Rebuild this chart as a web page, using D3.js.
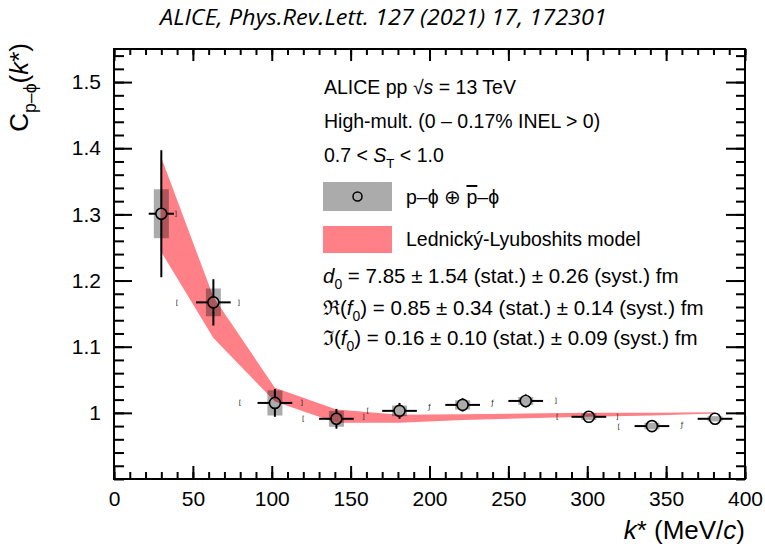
<!DOCTYPE html>
<html>
<head>
<meta charset="utf-8">
<script src="https://cdn.jsdelivr.net/npm/d3@7"></script>
<style>
  body { margin: 0; background: #fff; }
  svg { display: block; font-family: "Liberation Sans", Arial, sans-serif; }
</style>
</head>
<body>
<svg id="chart" width="765" height="548"></svg>
<script>
// p-phi correlation
const kStar = [30, 63, 102, 141, 181, 221, 261, 301, 341, 381];
const corr = [1.301, 1.167, 1.015, 0.991, 1.003, 1.012, 1.018, 0.994, 0.980, 0.991];
const statErr = [0.096, 0.035, 0.021, 0.015, 0.012, 0.010, 0.010, 0.005, 0.005, 0.004];
const systErr = [0.037, 0.021, 0.019, 0.012, 0.008, 0.007, 0.006, 0.005, 0.005, 0.004];
const kErr = [8, 11, 11, 11, 11, 11, 11, 11, 11, 11];

// Lednicky-Lyuboshits band
const modelK = [29.5, 63, 102, 141, 181, 221, 261, 301, 341, 381];
const modelLow = [1.245, 1.113, 1.017, 0.985, 0.985, 0.989, 0.992, 0.994, 0.996, 0.999];
const modelHigh = [1.389, 1.175, 1.038, 1.005, 0.997, 0.998, 0.999, 1.000, 1.000, 1.001];

// little bracket glyphs left over at the bin edges
const markK = [39, 40, 79, 80, 119, 120, 158, 161, 200, 240, 280, 281, 319, 320, 360, 400];
const markV = [1.301, 1.167, 1.167, 1.015, 1.015, 0.991, 0.994, 1.003, 1.009, 1.015, 1.018, 0.994, 0.994, 0.980, 0.983, 0.991];
const markChar = [']', '[', ']', '[', ']', '[', ']', '[', 'ƒ', 'ƒ', ']', '[', ']', '[', 'ƒ', ']'];

const xTicks = [0, 50, 100, 150, 200, 250, 300, 350, 400];
const yTicks = [1.0, 1.1, 1.2, 1.3, 1.4, 1.5];

const bandColor = '#ff8087';

const svg = d3.select('#chart');
const frame = { left: 114, top: 49, right: 745, bottom: 479 };

const x = d3.scaleLinear().domain([0, 400]).range([frame.left, frame.right]);
const y = d3.scaleLinear().domain([0.9, 1.55]).range([frame.bottom, frame.top]);

// title
svg
  .append('text')
  .attr('x', 383.5)
  .attr('y', 25)
  .attr('text-anchor', 'middle')
  .attr('textLength', 447)
  .attr('lengthAdjust', 'spacingAndGlyphs')
  .style('font-family', '"Open Sans", sans-serif')
  .style('font-style', 'italic')
  .style('font-size', '22px')
  .text('ALICE, Phys.Rev.Lett. 127 (2021) 17, 172301');

function rich(sel, px, py, parts, size) {
  const t = sel
    .append('text')
    .attr('x', px)
    .attr('y', py)
    .style('font-size', `${size}px`);
  let shift = 0;
  parts.forEach(p => {
    const want = p.sub ? size * 0.3 : 0;
    const ts = t.append('tspan').attr('dy', want - shift).text(p.t);
    shift = want;
    if (p.it) ts.style('font-style', 'italic');
    if (p.sub) ts.style('font-size', `${size * 0.68}px`);
    if (p.ov) ts.style('text-decoration', 'overline');
  });
  return t;
}

// model band
const band = d3
  .area()
  .x((d, i) => x(modelK[i]))
  .y0((d, i) => y(modelLow[i]))
  .y1((d, i) => y(modelHigh[i]));

svg
  .append('path')
  .attr('d', band(modelK))
  .attr('fill', bandColor);

// systematic boxes
svg
  .selectAll('.syst')
  .data(kStar)
  .enter()
  .append('rect')
  .attr('class', 'syst')
  .attr('x', d => x(d) - 7.5)
  .attr('width', 15)
  .attr('y', (d, i) => y(corr[i] + systErr[i]))
  .attr('height', (d, i) => y(corr[i] - systErr[i]) - y(corr[i] + systErr[i]))
  .attr('fill', '#000')
  .attr('fill-opacity', 0.33);

// stat error bars, stopped at the marker edge
const r = 5.5;
const bars = [];
kStar.forEach((k, i) => {
  const cx = x(k);
  const cy = y(corr[i]);
  const top = y(corr[i] + statErr[i]);
  const bot = y(corr[i] - statErr[i]);
  if (cy - r > top) bars.push([cx, top, cx, cy - r]);
  if (bot > cy + r) bars.push([cx, cy + r, cx, bot]);
  bars.push([x(k - kErr[i]), cy, cx - r, cy]);
  bars.push([cx + r, cy, x(k + kErr[i]), cy]);
});

svg
  .selectAll('.err')
  .data(bars)
  .enter()
  .append('line')
  .attr('class', 'err')
  .attr('x1', d => d[0])
  .attr('y1', d => d[1])
  .attr('x2', d => d[2])
  .attr('y2', d => d[3])
  .attr('stroke', '#000')
  .attr('stroke-width', 2);

svg
  .selectAll('.dot')
  .data(kStar)
  .enter()
  .append('circle')
  .attr('class', 'dot')
  .attr('cx', d => x(d))
  .attr('cy', (d, i) => y(corr[i]))
  .attr('r', r)
  .attr('fill', 'none')
  .attr('stroke', '#000')
  .attr('stroke-width', 1.6);

svg
  .selectAll('.mark')
  .data(markK)
  .enter()
  .append('text')
  .attr('class', 'mark')
  .attr('x', d => x(d))
  .attr('y', (d, i) => y(markV[i]) + 2.5)
  .attr('text-anchor', 'middle')
  .style('font-size', '7px')
  .style('font-family', '"DejaVu Sans", sans-serif')
  .attr('fill', '#222')
  .text((d, i) => markChar[i]);

// axes, ticks inside the frame
function styleAxis(g) {
  g.select('.domain').remove();
  g.selectAll('.tick line').attr('stroke', '#000').attr('stroke-width', 2);
  g.selectAll('.tick text').attr('fill', '#000').style('font-size', '21px');
}

const xMinor = d3.range(0, 401, 10);
const yMinor = d3.range(0.9, 1.551, 0.02);

svg
  .append('g')
  .attr('transform', `translate(0,${frame.bottom})`)
  .call(d3.axisBottom(x).tickValues(xMinor).tickSize(-7).tickFormat(''))
  .call(styleAxis);
svg
  .append('g')
  .attr('transform', `translate(0,${frame.bottom})`)
  .call(
    d3
      .axisBottom(x)
      .tickValues(xTicks)
      .tickSize(-13)
      .tickPadding(12)
      .tickFormat(d => d)
  )
  .call(styleAxis);

svg
  .append('g')
  .attr('transform', `translate(0,${frame.top})`)
  .call(d3.axisTop(x).tickValues(xMinor).tickSize(-6).tickFormat(''))
  .call(styleAxis);
svg
  .append('g')
  .attr('transform', `translate(0,${frame.top})`)
  .call(d3.axisTop(x).tickValues(xTicks).tickSize(-12).tickFormat(''))
  .call(styleAxis);

svg
  .append('g')
  .attr('transform', `translate(${frame.left},0)`)
  .call(d3.axisLeft(y).tickValues(yMinor).tickSize(-10).tickFormat(''))
  .call(styleAxis);
svg
  .append('g')
  .attr('transform', `translate(${frame.left},0)`)
  .call(
    d3
      .axisLeft(y)
      .tickValues(yTicks)
      .tickSize(-18)
      .tickPadding(13)
      .tickFormat(d => (d === 1 ? '1' : d3.format('.1f')(d)))
  )
  .call(styleAxis);

svg
  .append('g')
  .attr('transform', `translate(${frame.right},0)`)
  .call(d3.axisRight(y).tickValues(yMinor).tickSize(-9).tickFormat(''))
  .call(styleAxis);
svg
  .append('g')
  .attr('transform', `translate(${frame.right},0)`)
  .call(d3.axisRight(y).tickValues(yTicks).tickSize(-19).tickFormat(''))
  .call(styleAxis);

svg
  .append('rect')
  .attr('x', frame.left)
  .attr('y', frame.top)
  .attr('width', frame.right - frame.left)
  .attr('height', frame.bottom - frame.top)
  .attr('fill', 'none')
  .attr('stroke', '#000')
  .attr('stroke-width', 2);

// axis titles
rich(
  svg,
  frame.right,
  539,
  [{ t: 'k', it: true }, { t: '* (MeV/' }, { t: 'c', it: true }, { t: ')' }],
  26
).attr('text-anchor', 'end');

const yTitle = svg.append('g').attr('transform', 'translate(28,43) rotate(-90)');
rich(
  yTitle,
  0,
  0,
  [{ t: 'C' }, { t: 'p–ϕ', sub: true }, { t: '(' }, { t: 'k', it: true }, { t: '*)' }],
  26
).attr('text-anchor', 'end');

// legend and text block
const fs = 19.5;
const fsPar = 20.5;
rich(svg, 324, 94, [{ t: 'ALICE pp  √' }, { t: 's', it: true }, { t: ' = 13 TeV' }], fs);
rich(svg, 324, 128, [{ t: 'High-mult. (0 – 0.17% INEL > 0)' }], fs);
rich(
  svg,
  324,
  162,
  [{ t: '0.7 < ' }, { t: 'S', it: true }, { t: 'T', sub: true }, { t: ' < 1.0' }],
  fs
);

svg
  .append('rect')
  .attr('x', 323)
  .attr('y', 182)
  .attr('width', 69)
  .attr('height', 29)
  .attr('fill', '#000')
  .attr('fill-opacity', 0.33);
svg
  .append('circle')
  .attr('cx', 357.5)
  .attr('cy', 196.5)
  .attr('r', 4.5)
  .attr('fill', 'none')
  .attr('stroke', '#000')
  .attr('stroke-width', 1.5);
rich(svg, 406, 204, [{ t: 'p–ϕ ⊕ ' }, { t: 'p', ov: true }, { t: '–ϕ' }], fs);

svg
  .append('rect')
  .attr('x', 323)
  .attr('y', 226)
  .attr('width', 69)
  .attr('height', 27)
  .attr('fill', bandColor);
rich(svg, 406, 246, [{ t: 'Lednický-Lyuboshits model' }], fs);

rich(
  svg,
  323,
  283,
  [{ t: 'd', it: true }, { t: '0', sub: true }, { t: ' = 7.85 ± 1.54 (stat.) ± 0.26 (syst.) fm' }],
  fsPar
);
rich(
  svg,
  323,
  315,
  [
    { t: 'ℜ(' },
    { t: 'f', it: true },
    { t: '0', sub: true },
    { t: ') = 0.85 ± 0.34 (stat.) ± 0.14 (syst.) fm' }
  ],
  fsPar
);
rich(
  svg,
  323,
  345,
  [
    { t: 'ℑ(' },
    { t: 'f', it: true },
    { t: '0', sub: true },
    { t: ') = 0.16 ± 0.10 (stat.) ± 0.09 (syst.) fm' }
  ],
  fsPar
);
</script>
</body>
</html>
